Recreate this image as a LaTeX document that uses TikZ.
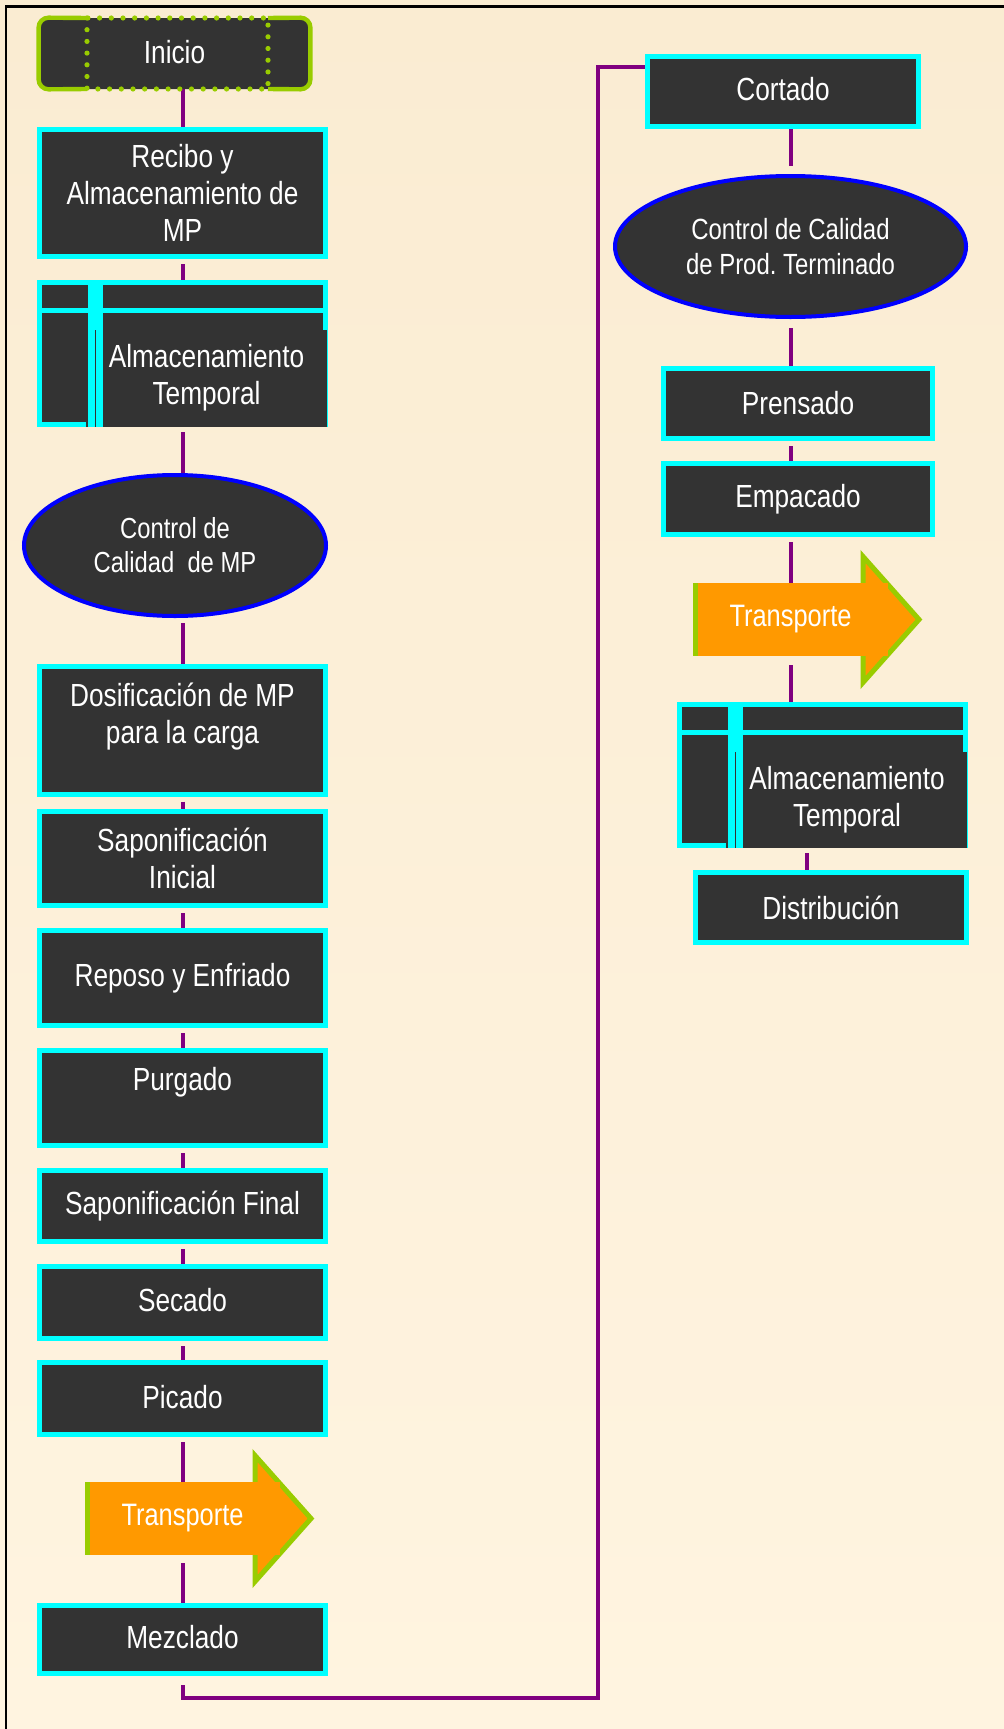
\documentclass[tikz,border=0pt]{standalone}
\usepackage{fontspec}
\setmainfont[FakeStretch=0.82]{Liberation Sans}
\usetikzlibrary{shapes.geometric,calc}
\pgfdeclarelayer{bg}
\pgfdeclarelayer{lines}
\pgfsetlayers{bg,lines,main}
\definecolor{dark}{HTML}{333333}
\definecolor{cyanb}{HTML}{00FFFF}
\definecolor{blueb}{HTML}{0000FF}
\definecolor{greenb}{HTML}{99CC00}
\definecolor{orangef}{HTML}{FF9900}
\definecolor{purplel}{HTML}{800080}
\definecolor{bgtop}{HTML}{FAECD2}
\definecolor{bgbot}{HTML}{FFF4E0}
\tikzset{
  pbox/.style 2 args={rectangle, draw=cyanb, fill=dark, line width=2.5pt, inner sep=0pt,
    minimum width={(#1-5)*0.5pt}, minimum height={(#2-5)*0.5pt},
    text=white, align=center, font=\fontsize{16}{18.5}\selectfont},
  pell/.style 2 args={ellipse, draw=blueb, fill=dark, line width=2pt, inner sep=0pt,
    minimum width={(#1-4)*0.5pt}, minimum height={(#2-4)*0.5pt},
    text=white, align=center},
  lbl/.style={text=white, align=center, font=\fontsize{16}{18.5}\selectfont, inner sep=0pt},
  conn/.style={draw=purplel, line width=2pt, shorten <=2.5pt},
  tbody/.style={rectangle, fill=orangef, inner sep=0pt, minimum width=97.5pt,
    minimum height=36.5pt, text=white, font=\fontsize{15.5}{18}\selectfont},
}
% storage symbol decoration: L T R B (outer, px)
\newcommand\storedeco[4]{%
  \fill[cyanb] (#1,#2+28) rectangle (#3,#2+32.5);
  \fill[dark] (#1+49,#2+50) rectangle (#3-1,#4-0.5);
  \fill[cyanb] (#1+51,#2) rectangle (#1+66,#4);
  \draw[dark, line width=0.4pt] (#1+58.5,#2+50) -- (#1+58.5,#4);
}
% transport arrow: name, body left x, centre y (px)
\newcommand\transportarrow[3]{%
  \filldraw[fill=orangef, draw=greenb, line width=2.5pt, line join=miter]
    (#2+170,#3-63) -- (#2+226,#3) -- (#2+170,#3+63) -- cycle;
  \node[tbody] (#1) at (#2+97.5,#3) {\raisebox{1.5pt}{Transporte}};
  \fill[greenb] (#2,#3-36.5) rectangle (#2+5,#3+36.5);
}
\begin{document}
\begin{tikzpicture}[x=0.5pt,y=-0.5pt]
\useasboundingbox (0,0) rectangle (1004,1729);
\begin{pgfonlayer}{bg}
  \fill[top color=bgtop, bottom color=bgbot] (0,0) rectangle (1004,1729);
\end{pgfonlayer}
\draw[black, line width=1.25pt] (6,1729) -- (6,6.5) -- (1004,6.5);

% ---- left column ----
\node[rectangle, fill=dark, rounded corners=5pt, inner sep=0pt,
  minimum width={(275-4)*0.5pt}, minimum height={(75-4)*0.5pt},
  text=white, font=\fontsize{16}{18.5}\selectfont] (inicio) at (174.5,53.5) {\raisebox{1.75pt}{Inicio}};
\draw[greenb, line width=2.2pt, rounded corners=5pt] (87,18) -- (inicio.north west) -- (inicio.south west) -- (87,89);
\draw[greenb, line width=2.2pt, rounded corners=5pt] (268,18) -- (inicio.north east) -- (inicio.south east) -- (268,89);
\draw[greenb, line width=2.6pt, line cap=round, dash pattern=on 0pt off 5.85pt] (87,18) rectangle (268,89);

\node[pbox={291}{132}] (recibo) at (182.5,193) {Recibo y\\Almacenamiento de\\MP};

\node[pbox={291}{147}] (alm1) at (182.5,353.5) {};
\storedeco{37}{280}{328}{427}
\node[lbl] (alm1-text) at ($(alm1)+(24,24.5)$) {Almacenamiento\\Temporal};

\node[pell={306}{145}, font=\fontsize{14.5}{17}\selectfont] (ctrl1) at (175,545.5) {Control de\\Calidad\ \ de MP};

\node[pbox={291}{133}, label={[lbl,yshift=6.5pt]center:{Dosificación de MP\\para la carga}}] (dosif) at (182.5,730) {};
\node[pbox={291}{99}] (sapini) at (182.5,858.5) {Saponificación\\Inicial};
\node[pbox={291}{100}] (reposo) at (182.5,978) {Reposo y Enfriado};
\node[pbox={291}{100}, label={[lbl,yshift=8pt]center:{Purgado}}] (purgado) at (182.5,1098) {};
\node[pbox={291}{76}] (sapfin) at (182.5,1206) {\raisebox{1pt}{Saponificación Final}};
\node[pbox={291}{77}] (secado) at (182.5,1302.5) {\raisebox{2.5pt}{Secado}};
\node[pbox={291}{77}] (picado) at (182.5,1398.5) {\raisebox{2pt}{Picado}};
\transportarrow{transp1}{85}{1518.5}
\node[pbox={291}{73}] (mezclado) at (182.5,1639.5) {\raisebox{2.5pt}{Mezclado}};

% ---- right column ----
\node[pbox={276}{75}] (cortado) at (783,91.5) {\raisebox{2.5pt}{Cortado}};
\node[pell={355}{145}, font=\fontsize{14.6}{17.5}\selectfont] (ctrl2) at (790.5,246.5) {Control de Calidad\\de Prod.\ Terminado};
\node[pbox={274}{75}] (prensado) at (798,403.5) {Prensado};
\node[pbox={274}{76}] (empacado) at (798,499) {Empacado};
\transportarrow{transp2}{693}{619.5}
\node[pbox={291}{146}] (alm2) at (822.5,775) {};
\storedeco{677}{702}{968}{848}
\node[lbl] (alm2-text) at ($(alm2)+(24.5,25)$) {Almacenamiento\\Temporal};
\node[pbox={276}{75}] (distrib) at (831,907.5) {Distribución};

% ---- connectors ----
\coordinate (c1) at (598,1698);
\coordinate (c2) at (598,66.5);
\coordinate (a2d) at (807,848);
\begin{pgfonlayer}{lines}
  \draw[conn, shorten <=0pt] (inicio.south -| recibo.north) -- (recibo.north);
  \draw[conn] (recibo.south) -- (alm1.north);
  \draw[conn] (alm1.south) -- (alm1.south |- ctrl1.north);
  \draw[conn] (ctrl1.south -| dosif.north) -- (dosif.north);
  \draw[conn] (dosif.south) -- (sapini.north);
  \draw[conn] (sapini.south) -- (reposo.north);
  \draw[conn] (reposo.south) -- (purgado.north);
  \draw[conn] (purgado.south) -- (sapfin.north);
  \draw[conn] (sapfin.south) -- (secado.north);
  \draw[conn] (secado.south) -- (picado.north);
  \draw[conn] (picado.south) -- (transp1.north);
  \draw[conn, shorten <=4pt] (transp1.south) -- (mezclado.north);
  \draw[conn, shorten <=4.5pt, line join=miter] (mezclado.south) -- (mezclado.south |- c1) -- (c1) -- (c2) -- (c2 -| cortado.west);
  \draw[conn, shorten <=0pt, shorten >=4pt] (ctrl2.north |- cortado.south) -- (ctrl2.north);
  \draw[conn, shorten <=4.5pt] (ctrl2.south) -- (ctrl2.south |- prensado.north);
  \draw[conn] (prensado.south -| ctrl2) -- (empacado.north -| ctrl2);
  \draw[conn] (empacado.south -| transp2) -- (transp2.north);
  \draw[conn, shorten <=4.5pt] (transp2.south) -- (transp2.south |- alm2.north);
  \draw[conn] (a2d |- alm2.south) -- (a2d |- distrib.north);
\end{pgfonlayer}
\end{tikzpicture}
\end{document}
